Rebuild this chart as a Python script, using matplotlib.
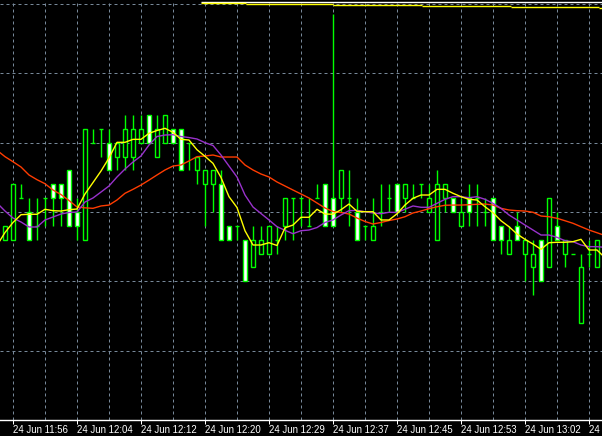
import matplotlib
matplotlib.use("Agg")
import matplotlib.pyplot as plt
import numpy as np

# 1-minute bars, values in pips above the bottom of the window
opens = [26, 26, 32, 30, 28, 32, 34, 34, 36, 30, 26, 40, 42, 40, 38, 38, 38, 40, 44, 38,
         40, 42, 42, 40, 36, 34, 34, 34, 28, 28, 26, 22, 24, 24, 26, 28, 32, 32, 28, 32,
         34, 32, 32, 32, 30, 28, 26, 30, 32, 34, 32, 32, 34, 30, 26, 32, 32, 28, 32, 32,
         30, 32, 28, 24, 28, 24, 22, 26, 22, 28, 24, 24, 14, 24, 22]
highs = [28, 34, 34, 32, 32, 32, 34, 34, 36, 32, 42, 42, 42, 42, 40, 44, 44, 44, 44, 44,
         44, 42, 42, 40, 38, 36, 36, 36, 28, 28, 26, 28, 28, 28, 28, 32, 32, 32, 32, 34,
         34, 58.56, 36, 36, 32, 28, 32, 34, 34, 34, 34, 34, 34, 34, 36, 34, 32, 32, 34, 34,
         32, 32, 28, 28, 30, 26, 26, 26, 32, 30, 26, 24, 24, 26, 26]
lows = [26, 26, 32, 26, 26, 28, 28, 28, 28, 26, 26, 40, 38, 36, 36, 36, 36, 40, 40, 38,
        40, 40, 36, 36, 34, 28, 30, 26, 26, 26, 20, 22, 24, 24, 24, 26, 26, 28, 28, 32,
        28, 28, 30, 28, 26, 26, 26, 28, 30, 30, 30, 32, 32, 30, 26, 30, 30, 28, 28, 28,
        28, 26, 24, 24, 26, 20, 18, 20, 22, 26, 22, 24, 14, 22, 22]
closes = [28, 34, 32, 26, 28, 32, 32, 32, 28, 28, 42, 40, 42, 36, 40, 42, 42, 42, 40, 42,
          44, 40, 36, 40, 38, 36, 36, 26, 26, 28, 20, 26, 26, 28, 26, 32, 32, 32, 28, 32,
          28, 28, 36, 32, 26, 28, 28, 30, 32, 30, 34, 32, 34, 32, 34, 34, 30, 30, 30, 32,
          30, 26, 26, 26, 26, 26, 24, 20, 32, 26, 26, 24, 22, 24, 26]

# moving averages, bar -1 .. bar 75 (one bar beyond each edge)
ma_fast = [25.2,
           27.04, 28.49, 29.61, 29.67, 29.67, 30.39, 30.19, 30.14, 30.33, 30.43,
           32.6, 34.25, 35.91, 37.79, 40.05, 40.05, 40.48, 40.48, 41.35, 41.75,
           42.07, 41.49, 40.48, 40.38, 38.98, 38.03, 37.02, 34.98, 32.21, 30.65,
           27.29, 25.24, 25.24, 25.57, 25.17, 27.72, 28.12, 29.24, 29.24, 30.39,
           29.71, 29.68, 30.33, 31.15, 30.1, 30.04, 30.04, 28.85, 28.85, 29.74,
           31.01, 31.98, 32.45, 32.45, 33.27, 33.27, 32.7, 32.21, 31.83, 31.73,
           30.76, 29.9, 28.74, 27.88, 26.83, 26.06, 25.38, 24.62, 25.57, 25.63,
           25.63, 25.72, 26.06, 24.52, 24.52,
           23.4]
ma_mid = [31.3,
          30.14, 29.13, 28.56, 27.84, 27.84, 28.85, 29.28, 29.71, 29.93, 30.0,
          31.44, 32.02, 32.88, 33.75, 35.05, 36.2, 37.21, 38.08, 39.66, 40.89,
          41.1, 41.15, 40.89, 40.74, 40.53, 40.0, 39.59, 38.22, 36.63, 35.05,
          32.45, 30.72, 29.78, 28.85, 27.88, 27.36, 26.87, 27.3, 27.4, 27.76,
          28.49, 28.85, 29.57, 30.19, 30.24, 30.03, 29.86, 29.75, 29.96, 29.93,
          30.4, 30.87, 30.68, 30.68, 31.25, 31.83, 32.21, 32.21, 32.06, 32.21,
          31.83, 31.25, 30.53, 29.57, 28.85, 28.12, 27.4, 26.68, 26.68, 26.35,
          25.86, 25.72, 25.24, 25.0, 25.0,
          24.9]
ma_slow = [38.9,
           37.98, 37.25, 36.49, 35.34, 34.66, 34.08, 33.17, 32.52, 31.66, 30.72,
           30.6, 30.53, 30.87, 31.0, 31.73, 32.7, 33.27, 33.89, 34.6, 35.34,
           36.06, 36.63, 36.78, 37.36, 37.98, 38.08, 38.22, 37.93, 37.93, 37.93,
           36.78, 36.06, 35.48, 35.05, 34.33, 33.75, 33.17, 32.6, 32.02, 31.3,
           30.58, 30.07, 29.93, 29.71, 29.13, 28.63, 28.27, 28.49, 28.77, 28.99,
           29.32, 29.86, 30.14, 30.48, 30.76, 30.97, 31.0, 31.0, 31.05, 31.11,
           31.15, 31.0, 30.53, 30.29, 30.19, 30.14, 29.96, 29.42, 29.32, 29.09,
           28.74, 28.37, 27.88, 27.4, 27.01,
           26.6]

# lines at the very top of the window
top_white_start = 24.5
top_white_level = 60.29
step_edges = [24.5, 30.1, 41.0, 52.1, 63.25, 74.25, 75.0]
step_levels = [60.1, 60.0, 59.81, 59.67, 59.52, 59.38]

tick_bars = [1, 9, 17, 25, 33, 41, 49, 57, 65, 73]
tick_labels = ['24 Jun 11:56', '24 Jun 12:04', '24 Jun 12:12', '24 Jun 12:20', '24 Jun 12:29',
               '24 Jun 12:37', '24 Jun 12:45', '24 Jun 12:53', '24 Jun 13:02', '24 Jun 13:10']

GREEN = '#00ff00'
GRID = '#778899'
PX = 0.72

fig = plt.figure(figsize=(6.02, 4.36), dpi=100, facecolor='black')
ax = fig.add_axes([0, 16 / 436, 1, 420 / 436])
ax.set_facecolor('black')
ax.set_xlim(-0.625, 74.625)
ax.set_ylim(0, 420 / 6.9333)

for lvl in range(10, 61, 10):
    ax.axhline(lvl, color=GRID, lw=PX, ls=(0, (3, 3)), zorder=0)
for b in range(1, 75, 4):
    ax.axvline(b, color=GRID, lw=PX, ls=(0, (3, 3)), zorder=0)

x = np.arange(len(opens))
o = np.array(opens, float)
h = np.array(highs, float)
l = np.array(lows, float)
c = np.array(closes, float)

ax.vlines(x, l, h, color=GREEN, lw=1.0, zorder=2)

bull = c > o
bear = c < o
doji = c == o
w = 0.56
ax.bar(x[bull], (c - o)[bull], bottom=o[bull], width=w, color='black',
       edgecolor=GREEN, linewidth=1.0, zorder=3)
ax.bar(x[bear], (o - c)[bear], bottom=c[bear], width=w, color='white',
       edgecolor=GREEN, linewidth=1.0, zorder=3)
ax.hlines(o[doji], x[doji] - w / 2, x[doji] + w / 2, color=GREEN, lw=1.0, zorder=3)

xm = np.arange(-1, len(opens) + 1)
ax.plot(xm, ma_slow, color='#ff3c00', lw=1.0, zorder=4)
ax.plot(xm, ma_mid, color='#9932cc', lw=1.0, zorder=4)
ax.plot(xm, ma_fast, color='#ffff00', lw=1.0, zorder=5)

ax.hlines(top_white_level, top_white_start, 75, color='white', lw=1.0, zorder=4)
for i in range(len(step_levels)):
    ax.hlines(step_levels[i], step_edges[i], step_edges[i + 1], color='#ffff00', lw=1.0, zorder=4)

for s in ['top', 'left', 'right']:
    ax.spines[s].set_visible(False)
ax.spines['bottom'].set_color('white')
ax.spines['bottom'].set_linewidth(1.0)
ax.set_yticks([])
ax.set_xticks(tick_bars)
ax.set_xticklabels(tick_labels, ha='left', color='white',
                   fontfamily='Liberation Sans', fontsize=6.9)
ax.tick_params(axis='x', colors='white', labelcolor='white', length=3, width=PX,
               direction='out', pad=0.5)

fig.savefig('out.png', dpi=100, facecolor='black')
